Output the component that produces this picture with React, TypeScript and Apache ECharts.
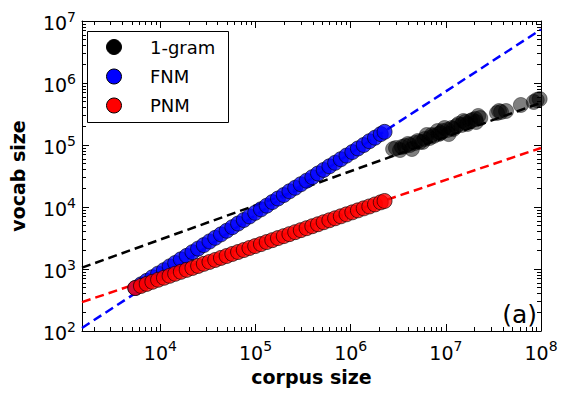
import React, { useEffect, useRef } from "react";
import * as echarts from "echarts";

const FONT = "DejaVu Sans";

// x range and tick labels (powers of ten)
const xRange = [1500, 1e8];
const yRange = [100, 1e7];
const xTickExponents = [4, 5, 6, 7, 8];
const yTickExponents = [2, 3, 4, 5, 6, 7];

// FNM / PNM share corpus sizes
const corpusSize = [5450, 6250, 7180, 8240, 9460, 10900, 12500, 14300, 16400, 18900, 21700, 24900, 28600, 32800, 37700, 43300, 49700, 57000, 65500, 75200, 86300, 99100, 114000, 131000, 150000, 172000, 198000, 227000, 261000, 299000, 344000, 395000, 453000, 520000, 597000, 686000, 787000, 904000, 1040000, 1190000, 1370000, 1570000, 1800000, 2070000, 2270000];
const fnmVocab = [494, 565, 644, 736, 841, 959, 1100, 1250, 1430, 1630, 1870, 2130, 2430, 2780, 3180, 3620, 4140, 4730, 5400, 6170, 7050, 8050, 9180, 10500, 12000, 13700, 15600, 17900, 20400, 23300, 26600, 30300, 34700, 39600, 45300, 51600, 59000, 67500, 76900, 87900, 100000, 115000, 131000, 150000, 163000];
const pnmVocab = [494, 533, 575, 621, 670, 721, 776, 836, 899, 968, 1040, 1120, 1210, 1300, 1400, 1510, 1620, 1750, 1880, 2020, 2180, 2340, 2520, 2720, 2920, 3150, 3390, 3650, 3930, 4230, 4550, 4900, 5270, 5680, 6110, 6580, 7080, 7620, 8200, 8830, 9510, 10200, 11000, 11900, 12500];

// 1-gram
const ngramCorpus = [2790000, 2990000, 3300000, 3460000, 3720000, 3990000, 4190000, 4400000, 4720000, 5070000, 5320000, 5710000, 6000000, 6300000, 6760000, 7100000, 7450000, 8180000, 8400000, 8810000, 9250000, 9700000, 10400000, 10700000, 11500000, 12000000, 12900000, 13600000, 14600000, 15300000, 16000000, 16800000, 18100000, 19000000, 20400000, 20800000, 21900000, 23000000, 34500000, 36200000, 38000000, 42900000, 61400000, 83900000, 90200000, 96800000];
const ngramVocab = [86100, 89500, 83000, 92900, 96400, 104000, 100000, 86100, 108000, 116000, 112000, 112000, 125000, 145000, 130000, 145000, 140000, 168000, 150000, 156000, 168000, 188000, 175000, 150000, 188000, 181000, 202000, 218000, 210000, 244000, 235000, 218000, 244000, 253000, 263000, 235000, 294000, 272000, 328000, 353000, 340000, 353000, 442000, 494000, 532000, 552000];

// fitted power-law lines (end points)
const fitX = [1500, 1e8];
const ngramFitY = [1050, 480000];
const fnmFitY = [112, 7300000];
const pnmFitY = [292, 89500];

const seriesNames = ["1-gram", "FNM", "PNM"];
const seriesColors = ["#000000", "#0000ff", "#ff0000"];

const zip = (a: number[], b: number[]) => a.map((v, i) => [v, b[i]]);

const makeFormatter = (exps: number[]) => (v: number) => {
  const e = Math.round(Math.log10(v));
  if (Math.abs(v - Math.pow(10, e)) / v > 1e-6 || exps.indexOf(e) < 0) return "";
  return `{b|10}{s|${e}}`;
};

const rich = {
  b: { fontSize: 19, fontFamily: FONT, color: "#000", lineHeight: 23, verticalAlign: "bottom" },
  s: { fontSize: 14, fontFamily: FONT, color: "#000", lineHeight: 12, verticalAlign: "top" },
};

const axisCommon = (range: number[]) => ({
  type: "log",
  logBase: 10,
  min: range[0],
  max: range[1],
  axisLine: { show: true, onZero: false, lineStyle: { color: "#000", width: 1 } },
  axisTick: { show: true, inside: true, length: 7, lineStyle: { color: "#000", width: 1 } },
  minorTick: { show: true, splitNumber: 9, length: 4, lineStyle: { color: "#000", width: 1 } },
  splitLine: { show: false },
  minorSplitLine: { show: false },
});

// legend box layout (pixels)
const LEG = { x: 87.5, y: 31.5, w: 141, h: 91, iconX: 114, textX: 150, rowY: [47, 76.5, 105.5] };

export default function App() {
  const ref = useRef<HTMLDivElement>(null);
  useEffect(() => {
    if (!ref.current) return;
    const chart = echarts.init(ref.current, undefined, { renderer: "svg" });
    const fitLine = (name: string, y: number[], color: string) => ({
      name,
      type: "line",
      data: zip(fitX, y),
      symbol: "none",
      silent: true,
      lineStyle: { color, width: 2.5, type: [9, 5] },
      z: 1,
    });
    const scatter = (name: string, data: number[][], color: string, opacity: number) => ({
      name,
      type: "scatter",
      data,
      symbol: "circle",
      symbolSize: 15,
      itemStyle: { color, opacity, borderColor: "#000", borderWidth: 0.8 },
      z: 2,
    });
    const legendGraphics: any[] = [
      {
        type: "rect",
        shape: { x: LEG.x, y: LEG.y, width: LEG.w, height: LEG.h },
        style: { fill: "#fff", stroke: "#000", lineWidth: 1 },
        z: 10,
      },
    ];
    seriesNames.forEach((name, i) => {
      legendGraphics.push({
        type: "circle",
        shape: { cx: LEG.iconX, cy: LEG.rowY[i], r: 7.5 },
        style: { fill: seriesColors[i], stroke: "#000", lineWidth: 1 },
        z: 11,
      });
      legendGraphics.push({
        type: "text",
        x: LEG.textX,
        y: LEG.rowY[i],
        style: { text: name, fontSize: 18, fontFamily: FONT, fill: "#000", align: "left", verticalAlign: "middle" },
        z: 11,
      });
    });
    chart.setOption({
      animation: false,
      backgroundColor: "#fff",
      grid: { left: 76, right: 28, top: 21, bottom: 65, containLabel: false },
      xAxis: [
        {
          ...axisCommon(xRange),
          position: "bottom",
          axisLabel: { margin: 8, formatter: makeFormatter(xTickExponents), rich, showMinLabel: false },
          name: "corpus size",
          nameLocation: "middle",
          nameGap: 36,
          nameTextStyle: { fontWeight: "bold", fontSize: 19, fontFamily: FONT, color: "#000", lineHeight: 19 },
        },
        { ...axisCommon(xRange), position: "top", axisLabel: { show: false } },
      ],
      yAxis: [
        {
          ...axisCommon(yRange),
          position: "left",
          axisLabel: { margin: 6, formatter: makeFormatter(yTickExponents), rich },
          name: "vocab size",
          nameLocation: "middle",
          nameGap: 55,
          nameTextStyle: { fontWeight: "bold", fontSize: 19, fontFamily: FONT, color: "#000", lineHeight: 19 },
        },
        { ...axisCommon(yRange), position: "right", axisLabel: { show: false } },
      ],
      graphic: [
        ...legendGraphics,
        {
          type: "text",
          x: 537,
          y: 314,
          style: { text: "(a)", fontSize: 25, fontFamily: FONT, fill: "#000", align: "right", verticalAlign: "middle" },
          z: 11,
        },
      ],
      series: [
        fitLine("fit-1gram", ngramFitY, seriesColors[0]),
        fitLine("fit-FNM", fnmFitY, seriesColors[1]),
        fitLine("fit-PNM", pnmFitY, seriesColors[2]),
        scatter(seriesNames[0], zip(ngramCorpus, ngramVocab), seriesColors[0], 0.5),
        scatter(seriesNames[1], zip(corpusSize, fnmVocab), seriesColors[1], 0.8),
        scatter(seriesNames[2], zip(corpusSize, pnmVocab), seriesColors[2], 0.8),
      ],
    });
    return () => chart.dispose();
  }, []);
  return (
    <div
      ref={ref}
      style={{ position: "absolute", left: 0, top: 0, width: 569, height: 396 }}
    />
  );
}
